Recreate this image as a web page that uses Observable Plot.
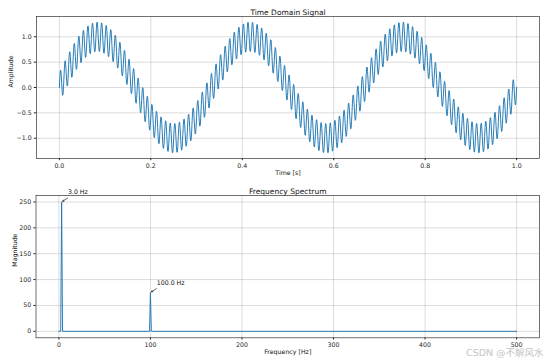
<!DOCTYPE html>
<html><head><meta charset="utf-8">
<script src="https://cdn.jsdelivr.net/npm/d3@7"></script>
<script src="https://cdn.jsdelivr.net/npm/@observablehq/plot@0.6"></script>
<style>
body{margin:0;background:#fff;}
#fig{position:relative;width:546px;height:364px;overflow:hidden;font-family:"DejaVu Sans",sans-serif;background:#fff;}
#fig svg{position:absolute;left:0;}
.wm{position:absolute;left:466px;top:345px;color:#c4c4c4;font-size:9.5px;font-family:"DejaVu Sans","Noto Sans CJK SC",sans-serif;white-space:nowrap;}
</style></head><body><div id="fig"></div>
<script>
// Signal components (spectrum annotations + amplitude axis)
const componentFreqsHz = [3, 100];
const componentAmps = [1.0, 0.3];
const sampleRateHz = 1000;
const durationS = 1;
const timeTicks = [0, 0.2, 0.4, 0.6, 0.8, 1.0];
const ampTicks = [-1.0, -0.5, 0.0, 0.5, 1.0];

// Spectrum (flat zero except two one-bin spikes)
const specFreqs = [0, 2, 3, 4, 99, 100, 101, 500];
const specMags = [0, 0, 250, 0, 0, 75, 0, 0];
const freqTicks = [0, 100, 200, 300, 400, 500];
const magTicks = [0, 50, 100, 150, 200, 250];
const peakLabels = ["3.0 Hz", "100.0 Hz"];
const peakFreqs = [3, 100];
const peakMags = [250, 75];

const BLUE = "#1f77b4";
const GRID = "#b0b0b0";
const FS = "6.25px";
const INK = "#262626";

const nSamples = sampleRateHz * durationS;
const signal = d3.range(nSamples + 1).map(i => {
  const t = i / sampleRateHz;
  let v = 0;
  componentFreqsHz.forEach((f, k) => { v += componentAmps[k] * Math.sin(2 * Math.PI * f * t); });
  return {t, v};
});
const spectrum = specFreqs.map((f, i) => ({f, m: specMags[i]}));
const peaks = peakFreqs.map((f, i) => ({f, m: peakMags[i], label: peakLabels[i]}));

const style = {fontSize: FS, fontFamily: "DejaVu Sans, sans-serif", color: INK, background: "transparent", overflow: "visible"};

const timePlot = Plot.plot({
  width: 546, height: 180,
  marginLeft: 36, marginRight: 7, marginTop: 16, marginBottom: 22,
  style,
  x: {domain: [-0.05, 1.05]},
  y: {domain: [-1.40, 1.40]},
  marks: [
    Plot.gridX(timeTicks, {stroke: GRID, strokeOpacity: 0.75, strokeWidth: 0.6}),
    Plot.gridY(ampTicks, {stroke: GRID, strokeOpacity: 0.75, strokeWidth: 0.6}),
    Plot.axisX(timeTicks, {tickFormat: d3.format(".1f"), tickSize: 2.2, tickPadding: 2.5, label: null, stroke: INK, fill: INK}),
    Plot.axisY(ampTicks, {tickFormat: d3.format(".1f"), tickSize: 2.2, tickPadding: 2.5, label: null, stroke: INK, fill: INK}),
    Plot.line(signal, {x: "t", y: "v", stroke: BLUE, strokeWidth: 0.95}),
    Plot.frame({stroke: "#333", strokeWidth: 0.7}),
    Plot.text(["Time Domain Signal"], {frameAnchor: "top", dy: -7, fontSize: 7.5, fill: "#111"}),
    Plot.text(["Time [s]"], {frameAnchor: "bottom", dy: 16.7, fill: "#111"}),
    Plot.text(["Amplitude"], {frameAnchor: "left", dx: -26, rotate: -90, fill: "#111"})
  ]
});

const specPlot = Plot.plot({
  width: 546, height: 184,
  marginLeft: 35.5, marginRight: 7, marginTop: 15, marginBottom: 26.7,
  style,
  x: {domain: [-25, 525]},
  y: {domain: [-12.5, 262.5]},
  marks: [
    Plot.gridX(freqTicks, {stroke: GRID, strokeOpacity: 0.75, strokeWidth: 0.6}),
    Plot.gridY(magTicks, {stroke: GRID, strokeOpacity: 0.75, strokeWidth: 0.6}),
    Plot.axisX(freqTicks, {tickFormat: d3.format("d"), tickSize: 2.2, tickPadding: 2.5, label: null, stroke: INK, fill: INK}),
    Plot.axisY(magTicks, {tickFormat: d3.format("d"), tickSize: 2.2, tickPadding: 2.5, label: null, stroke: INK, fill: INK}),
    Plot.line(spectrum, {x: "f", y: "m", stroke: BLUE, strokeWidth: 0.95}),
    Plot.arrow(peaks, {x1: d => d.f + 6.5, y1: d => d.m + 7.5, x2: "f", y2: "m", stroke: "#000", strokeWidth: 0.6, headLength: 3.5, insetStart: 0, insetEnd: 1.2}),
    Plot.text(peaks, {x: "f", y: "m", text: "label", textAnchor: "start", lineAnchor: "bottom", dx: 6.3, dy: -7.8, fill: "#111"}),
    Plot.frame({stroke: "#333", strokeWidth: 0.7}),
    Plot.text(["Frequency Spectrum"], {frameAnchor: "top", dy: -7, fontSize: 7.5, fill: "#111"}),
    Plot.text(["Frequency [Hz]"], {frameAnchor: "bottom", dy: 16.4, fill: "#111"}),
    Plot.text(["Magnitude"], {frameAnchor: "left", dx: -21.5, rotate: -90, fill: "#111"})
  ]
});

const fig = document.getElementById("fig");
timePlot.style.top = "0px";
specPlot.style.top = "180px";
fig.appendChild(timePlot);
fig.appendChild(specPlot);
const wm = document.createElement("div");
wm.className = "wm";
wm.textContent = "CSDN @不解风水";
fig.appendChild(wm);
</script>
</body></html>
